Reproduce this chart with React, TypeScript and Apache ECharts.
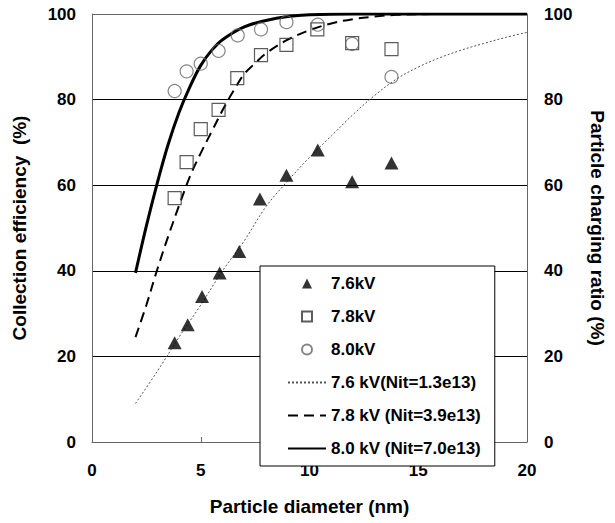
import React, { useEffect, useRef } from "react";
import * as echarts from "echarts";

// Measured data (particle diameter nm, efficiency %)
const tri76: [number, number][] = [
  [3.8, 23.2], [4.4, 27.4], [5.06, 34.0], [5.87, 39.5], [6.77, 44.5],
  [7.72, 56.8], [8.94, 62.3], [10.38, 68.2], [11.96, 60.8], [13.77, 65.2],
];
const sq78: [number, number][] = [
  [3.8, 57.0], [4.35, 65.4], [5.0, 73.1], [5.82, 77.6], [6.68, 85.0],
  [7.77, 90.4], [8.94, 92.8], [10.36, 96.4], [11.96, 93.2], [13.77, 91.8],
];
const circ80: [number, number][] = [
  [3.8, 82.0], [4.35, 86.6], [5.0, 88.4], [5.82, 91.4], [6.7, 95.0],
  [7.77, 96.4], [8.94, 98.1], [10.38, 97.5], [11.96, 93.0], [13.77, 85.3],
];

// Model curves
const fit76: [number, number][] = [
  [2, 9], [3, 16.5], [4, 24.5], [5, 32], [6, 40], [7, 47], [8, 55], [9, 61],
  [10, 66.5], [11, 71.5], [12, 76.5], [13, 81], [14, 84.8], [15, 87.6],
  [16, 89.8], [17, 91.6], [18, 93.1], [19, 94.5], [20, 95.7],
];
const fit78: [number, number][] = [
  [2, 24.5], [2.5, 32], [3, 40.3], [3.5, 48], [4, 55.2], [4.5, 62], [5, 67.5],
  [5.5, 72.5], [6, 77.5], [6.5, 82], [7, 86], [7.5, 88.5], [8, 90.8], [9, 94],
  [10, 96.2], [11, 97.8], [12, 98.8], [13, 99.4], [14, 99.8], [16, 100], [20, 100],
];
const fit80: [number, number][] = [
  [2, 39.5], [2.5, 50.5], [3, 60.5], [3.5, 69.5], [4, 77], [4.5, 83], [5, 88],
  [5.5, 91.5], [6, 94], [7, 97], [8, 98.5], [9, 99.4], [10, 99.8], [12, 100], [20, 100],
];

const legendNames = [
  "7.6kV",
  "7.8kV",
  "8.0kV",
  "7.6 kV(Nit=1.3e13)",
  "7.8 kV (Nit=3.9e13)",
  "8.0 kV (Nit=7.0e13)",
];

const FONT = '"Liberation Sans", Arial, sans-serif';

const ICON_TRI = "path://M5,0L10,10L0,10Z";
const ICON_SQ = "path://M0,0L10,0L10,10L0,10Z";
const ICON_CIRC = "path://M5,0A5,5 0 1,1 5,10A5,5 0 1,1 5,0Z";

export default function App() {
  const ref = useRef<HTMLDivElement>(null);
  useEffect(() => {
    if (!ref.current) return;
    const chart = echarts.init(ref.current, undefined, { renderer: "svg" });
    const axisLabel = { fontFamily: FONT, fontSize: 17, fontWeight: "bold", color: "#000" };
    const nameStyle = { fontFamily: FONT, fontSize: 19, fontWeight: "bold", color: "#000" };
    const hidden = { opacity: 0 };
    chart.setOption({
      animation: false,
      backgroundColor: "#fff",
      textStyle: { fontFamily: FONT },
      grid: { left: 92, right: 81, top: 14, bottom: 81, containLabel: false },
      legend: {
        orient: "vertical",
        left: 260,
        top: 266,
        padding: [9, 14, 9, 27],
        itemWidth: 38,
        itemHeight: 10,
        itemGap: 16,
        symbolKeepAspect: true,
        backgroundColor: "#fff",
        borderColor: "#000",
        borderWidth: 1,
        borderRadius: 0,
        data: [
          { name: legendNames[0], icon: ICON_TRI },
          { name: legendNames[1], icon: ICON_SQ },
          { name: legendNames[2], icon: ICON_CIRC },
          { name: legendNames[3], itemStyle: hidden },
          { name: legendNames[4], itemStyle: hidden },
          { name: legendNames[5], itemStyle: hidden },
        ],
        textStyle: { fontFamily: FONT, fontSize: 17, fontWeight: "bold", color: "#000" },
      },
      xAxis: {
        type: "value",
        min: 0,
        max: 20,
        interval: 5,
        name: "Particle diameter (nm)",
        nameLocation: "middle",
        nameGap: 55,
        nameTextStyle: nameStyle,
        axisLine: { show: true, lineStyle: { color: "#666", width: 1 } },
        axisTick: { show: true, inside: true, length: 5, lineStyle: { color: "#666" } },
        axisLabel: { ...axisLabel, margin: 20 },
        splitLine: { show: false },
      },
      yAxis: [
        {
          type: "value",
          min: 0,
          max: 100,
          interval: 20,
          position: "left",
          name: "Collection efficiency  (%)",
          nameLocation: "middle",
          nameRotate: 90,
          nameGap: 63,
          nameTextStyle: nameStyle,
          axisLine: { show: true, lineStyle: { color: "#666", width: 1 } },
          axisTick: { show: false },
          axisLabel: { ...axisLabel, margin: 16 },
          splitLine: {
            show: true,
            lineStyle: { color: ["#666", "#000", "#000", "#000", "#000", "#666"], width: 1 },
          },
        },
        {
          type: "value",
          min: 0,
          max: 100,
          interval: 20,
          position: "right",
          name: "Particle charging ratio (%)",
          nameLocation: "middle",
          nameRotate: -90,
          nameGap: 61,
          nameTextStyle: nameStyle,
          axisLine: { show: true, lineStyle: { color: "#666", width: 1 } },
          axisTick: { show: false },
          axisLabel: { ...axisLabel, margin: 17 },
          splitLine: { show: false },
        },
      ],
      series: [
        {
          name: legendNames[0],
          type: "scatter",
          symbol: "triangle",
          symbolSize: [14, 13],
          z: 5,
          itemStyle: { color: "#000" },
          data: tri76,
        },
        {
          name: legendNames[1],
          type: "scatter",
          symbol: "rect",
          symbolSize: 13,
          z: 5,
          itemStyle: { color: "rgba(255,255,255,0)", borderColor: "#333", borderWidth: 1.2 },
          data: sq78,
        },
        {
          name: legendNames[2],
          type: "scatter",
          symbol: "circle",
          symbolSize: 13,
          z: 5,
          itemStyle: { color: "rgba(255,255,255,0)", borderColor: "#666", borderWidth: 1.2 },
          data: circ80,
        },
        {
          name: legendNames[3],
          type: "line",
          symbol: "none",
          smooth: 0.35,
          z: 2,
          lineStyle: { color: "#555", width: 1, type: [2, 2] },
          itemStyle: { color: "#555" },
          data: fit76,
        },
        {
          name: legendNames[4],
          type: "line",
          symbol: "none",
          smooth: 0.35,
          z: 2,
          lineStyle: { color: "#000", width: 2, type: [10, 6] },
          itemStyle: { color: "#000" },
          data: fit78,
        },
        {
          name: legendNames[5],
          type: "line",
          symbol: "none",
          smooth: 0.35,
          z: 2,
          lineStyle: { color: "#000", width: 3, type: "solid" },
          itemStyle: { color: "#000" },
          data: fit80,
        },
      ],
    });
    return () => chart.dispose();
  }, []);
  return <div ref={ref} style={{ width: 615, height: 523, position: "absolute", left: 0, top: 0 }} />;
}
